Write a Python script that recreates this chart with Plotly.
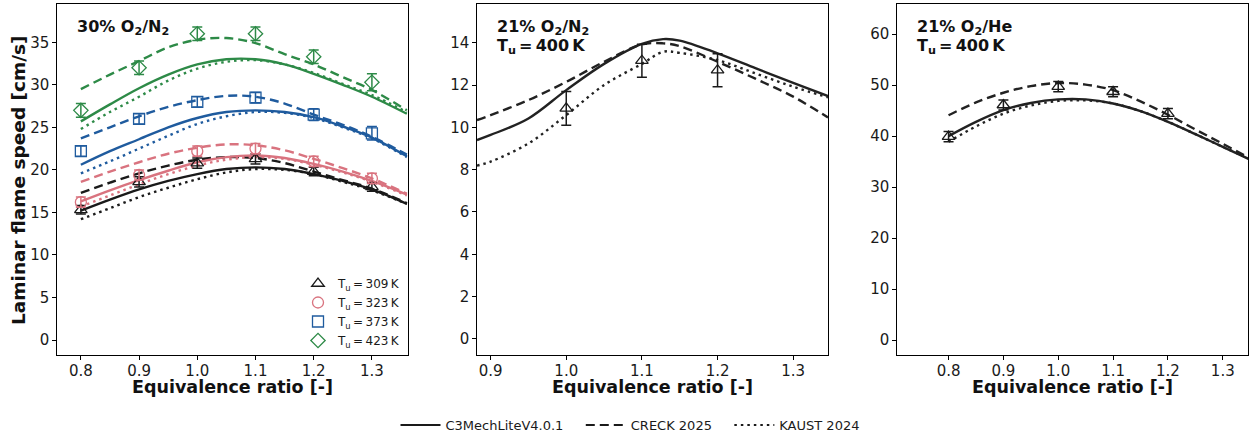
import plotly.graph_objects as go

# ---------------- data ----------------
# Panel 1: 30% O2/N2, several unburned temperatures
phi1 = [0.80, 0.85, 0.90, 0.95, 1.00, 1.05, 1.10, 1.15, 1.20, 1.25, 1.30, 1.36]
c3_309 = [15.2, 16.5, 17.7, 18.7, 19.5, 20.1, 20.3, 20.1, 19.5, 18.7, 17.7, 16.0]
creck_309 = [17.3, 18.5, 19.6, 20.5, 21.2, 21.5, 21.4, 20.8, 19.8, 18.8, 17.8, 16.1]
kaust_309 = [14.2, 15.5, 16.8, 17.9, 18.9, 19.7, 20.1, 20.0, 19.5, 18.6, 17.6, 16.0]
c3_323 = [16.3, 17.6, 18.8, 19.9, 20.9, 21.5, 21.7, 21.4, 20.7, 19.8, 18.7, 17.1]
creck_323 = [18.6, 19.8, 20.9, 21.9, 22.6, 23.0, 22.9, 22.3, 21.3, 20.2, 19.0, 17.2]
kaust_323 = [15.7, 17.0, 18.3, 19.5, 20.5, 21.2, 21.5, 21.3, 20.6, 19.7, 18.6, 17.0]
c3_373 = [20.6, 22.2, 23.6, 25.0, 26.1, 26.8, 27.0, 26.8, 26.2, 25.1, 23.8, 21.6]
creck_373 = [23.7, 25.0, 26.3, 27.4, 28.2, 28.7, 28.6, 27.8, 26.5, 25.3, 23.9, 21.8]
kaust_373 = [19.6, 21.0, 22.5, 24.0, 25.4, 26.3, 26.8, 26.7, 26.1, 25.0, 23.7, 21.5]
c3_423 = [25.7, 27.7, 29.6, 31.2, 32.4, 33.0, 33.0, 32.4, 31.3, 30.0, 28.6, 26.6]
creck_423 = [29.5, 31.2, 32.8, 34.4, 35.3, 35.5, 34.9, 33.6, 32.4, 30.9, 29.4, 27.0]
kaust_423 = [24.8, 26.8, 28.6, 30.5, 31.9, 32.7, 32.9, 32.4, 31.4, 30.1, 28.8, 26.8]

exp_phi1 = [0.8, 0.9, 1.0, 1.1, 1.2, 1.3]
exp_309 = [15.3, 18.6, 20.8, 21.3, 19.8, 18.0]
err_309 = [0.5, 0.6, 0.6, 0.6, 0.5, 0.5]
exp_323 = [16.2, 19.4, 22.2, 22.5, 21.0, 19.0]
err_323 = [0.6, 0.6, 0.6, 0.6, 0.6, 0.6]
exp_373 = [22.2, 26.0, 28.0, 28.5, 26.5, 24.3]
err_373 = [0.6, 0.6, 0.6, 0.6, 0.7, 0.8]
exp_423 = [27.0, 32.0, 36.0, 36.0, 33.3, 30.3]
err_423 = [0.8, 0.8, 0.8, 0.8, 0.8, 1.0]

temps = ["309", "323", "373", "423"]

# Panel 2: 21% O2/N2, Tu = 400 K
phi2 = [0.882, 0.90, 0.95, 1.00, 1.05, 1.10, 1.128, 1.15, 1.20, 1.25, 1.30, 1.346]
c3_p2 = [9.4, 9.64, 10.42, 11.76, 13.0, 13.95, 14.17, 14.1, 13.5, 12.8, 12.1, 11.48]
creck_p2 = [10.34, 10.58, 11.29, 12.15, 13.1, 13.92, 13.97, 13.84, 13.1, 12.3, 11.45, 10.47]
kaust_p2 = [8.19, 8.38, 9.24, 10.58, 12.0, 13.0, 13.57, 13.52, 13.18, 12.55, 11.92, 11.42]
exp_phi2 = [1.0, 1.1, 1.2]
exp_p2 = [10.9, 13.15, 12.7]
err_p2 = [0.8, 0.78, 0.78]

# Panel 3: 21% O2/He, Tu = 400 K
phi3 = [0.80, 0.85, 0.90, 0.95, 1.00, 1.05, 1.10, 1.15, 1.20, 1.25, 1.30, 1.35]
c3_p3 = [40.0, 42.8, 45.1, 46.5, 47.2, 47.2, 46.4, 44.9, 42.8, 40.4, 37.9, 35.4]
creck_p3 = [44.1, 46.6, 48.5, 49.8, 50.4, 50.1, 49.0, 46.8, 44.2, 41.3, 38.5, 35.6]
kaust_p3 = [38.9, 41.9, 44.4, 46.0, 46.9, 47.0, 46.4, 44.9, 42.8, 40.4, 37.9, 35.5]
exp_phi3 = [0.8, 0.9, 1.0, 1.1, 1.2]
exp_p3 = [39.9, 46.1, 49.7, 48.7, 44.4]
err_p3 = [1.0, 1.0, 1.0, 1.0, 1.0]

model_names = ["C3MechLiteV4.0.1", "CRECK 2025", "KAUST 2024"]

# ---------------- styles ----------------
FONT = "DejaVu Sans"
TS = "\u2009"  # thin space
NB = "\u00a0"
colors = {"309": "#1a1a1a", "323": "#d9737f", "373": "#1f5b9e", "423": "#2d8a47"}
symbols = {"309": "triangle-up-open", "323": "circle-open", "373": "square-open", "423": "diamond-open"}
dashes = ["solid", "9px,5px", "2.5px,4px"]
LW = 2.4
W, H = 1249, 440
ML, MR, MT, MB = 0, 0, 4, 85
plot_h = H - MT - MB

def px_x(p):
    return p / W

def px_y(p):
    return (H - MB - p) / plot_h

fig = go.Figure()

# ---- panel 1 ----
p1_models = {
    "309": [c3_309, creck_309, kaust_309],
    "323": [c3_323, creck_323, kaust_323],
    "373": [c3_373, creck_373, kaust_373],
    "423": [c3_423, creck_423, kaust_423],
}
p1_exp = {"309": (exp_309, err_309), "323": (exp_323, err_323),
          "373": (exp_373, err_373), "423": (exp_423, err_423)}

for t in temps:
    for k, ys in enumerate(p1_models[t]):
        fig.add_trace(go.Scatter(x=phi1, y=ys, mode="lines", xaxis="x", yaxis="y",
                                 line=dict(color=colors[t], width=LW, dash=dashes[k], shape="spline"),
                                 showlegend=False, hoverinfo="skip"))
for t in temps:
    ys, es = p1_exp[t]
    fig.add_trace(go.Scatter(x=exp_phi1, y=ys, mode="markers", xaxis="x", yaxis="y",
                             marker=dict(symbol=symbols[t], size=11, color=colors[t],
                                         line=dict(width=1.3, color=colors[t])),
                             error_y=dict(type="data", array=es, color=colors[t], thickness=1.5, width=5),
                             name=f"T<sub>u</sub>{TS}={TS}{t}{TS}K", legend="legend", showlegend=True))

# ---- panel 2 ----
for k, ys in enumerate([c3_p2, creck_p2, kaust_p2]):
    fig.add_trace(go.Scatter(x=phi2, y=ys, mode="lines", xaxis="x2", yaxis="y2",
                             line=dict(color="#222222", width=LW, dash=dashes[k], shape="spline"),
                             showlegend=False, hoverinfo="skip"))
fig.add_trace(go.Scatter(x=exp_phi2, y=exp_p2, mode="markers", xaxis="x2", yaxis="y2",
                         marker=dict(symbol="triangle-up-open", size=11, color="#1a1a1a",
                                     line=dict(width=1.3, color="#1a1a1a")),
                         error_y=dict(type="data", array=err_p2, color="#1a1a1a", thickness=1.5, width=5),
                         showlegend=False))

# ---- panel 3 ----
for k, ys in enumerate([c3_p3, creck_p3, kaust_p3]):
    fig.add_trace(go.Scatter(x=phi3, y=ys, mode="lines", xaxis="x3", yaxis="y3",
                             line=dict(color="#222222", width=LW, dash=dashes[k], shape="spline"),
                             showlegend=False, hoverinfo="skip"))
fig.add_trace(go.Scatter(x=exp_phi3, y=exp_p3, mode="markers", xaxis="x3", yaxis="y3",
                         marker=dict(symbol="triangle-up-open", size=11, color="#1a1a1a",
                                     line=dict(width=1.3, color="#1a1a1a")),
                         error_y=dict(type="data", array=err_p3, color="#1a1a1a", thickness=1.5, width=5),
                         showlegend=False))

# ---- bottom legend entries ----
for k, nm in enumerate(model_names):
    label = nm + (NB * 3 if k < len(model_names) - 1 else "")
    fig.add_trace(go.Scatter(x=[None], y=[None], mode="lines", xaxis="x", yaxis="y",
                             line=dict(color="#1a1a1a", width=2, dash=dashes[k]),
                             name=label, legend="legend2", showlegend=True))

# ---------------- axes ----------------
axis_common = dict(showline=True, mirror=True, linecolor="black", linewidth=1.3,
                   ticks="outside", ticklen=3.5, tickwidth=1, tickcolor="black",
                   showgrid=False, zeroline=False, automargin=False,
                   tickfont=dict(family=FONT, size=15, color="#1a1a1a"))

doms = [(57, 408), (477, 828), (897, 1248)]
xr = [[0.759, 1.362], [0.882, 1.346], [0.706, 1.346]]
yr = [[-1.76, 39.5], [-0.76, 15.83], [-2.9, 65.9]]
dt = [5, 2, 10]

layout = dict(width=W, height=H, margin=dict(l=ML, r=MR, t=MT, b=MB),
              paper_bgcolor="white", plot_bgcolor="white",
              font=dict(family=FONT, color="#1a1a1a"))
for i in range(3):
    sx = "" if i == 0 else str(i + 1)
    layout["xaxis" + sx] = dict(axis_common, domain=[px_x(doms[i][0]), px_x(doms[i][1])],
                                range=xr[i], dtick=0.1, tick0=0.8, tickformat=".1f",
                                anchor="y" + sx, ticklabelstandoff=-2)
    layout["yaxis" + sx] = dict(axis_common, domain=[0, 1], range=yr[i], dtick=dt[i], tick0=0,
                                anchor="x" + sx)

layout["legend"] = dict(x=px_x(406), xanchor="right", y=px_y(355), yanchor="bottom",
                        bgcolor="rgba(0,0,0,0)", font=dict(family=FONT, size=12, color="#1a1a1a"),
                        itemwidth=30, tracegroupgap=0)
layout["legend2"] = dict(orientation="h", x=px_x(630), xanchor="center", y=px_y(425), yanchor="middle",
                         bgcolor="rgba(0,0,0,0)", font=dict(family=FONT, size=13, color="#1a1a1a"),
                         itemwidth=40)

fig.update_layout(**layout)

# ---------------- annotations ----------------
ann = []
bold = dict(family=FONT, size=16, color="#111111")
tu_title = f"<b>T<sub>u</sub>{TS}={TS}400{TS}K</b>"
ann.append(dict(text="<b>30% O<sub>2</sub>/N<sub>2</sub></b>", x=px_x(75), y=px_y(28),
                xanchor="left", yanchor="middle", font=bold))
ann.append(dict(text="<b>21% O<sub>2</sub>/N<sub>2</sub></b>", x=px_x(495), y=px_y(28),
                xanchor="left", yanchor="middle", font=bold))
ann.append(dict(text=tu_title, x=px_x(495), y=px_y(47),
                xanchor="left", yanchor="middle", font=bold))
ann.append(dict(text="<b>21% O<sub>2</sub>/He</b>", x=px_x(915), y=px_y(28),
                xanchor="left", yanchor="middle", font=bold))
ann.append(dict(text=tu_title, x=px_x(915), y=px_y(47),
                xanchor="left", yanchor="middle", font=bold))
for a, b in doms:
    ann.append(dict(text="<b>Equivalence ratio [-]</b>", x=px_x((a + b) / 2), y=px_y(387),
                    xanchor="center", yanchor="middle", font=dict(family=FONT, size=17.5, color="#111111")))
ann.append(dict(text="<b>Laminar flame speed [cm/s]</b>", x=px_x(19), y=px_y(180), textangle=-90,
                xanchor="center", yanchor="middle", font=dict(family=FONT, size=18.5, color="#111111")))
for a_ in ann:
    a_.update(xref="paper", yref="paper", showarrow=False)
fig.update_layout(annotations=ann)

fig.write_html("out.html")
